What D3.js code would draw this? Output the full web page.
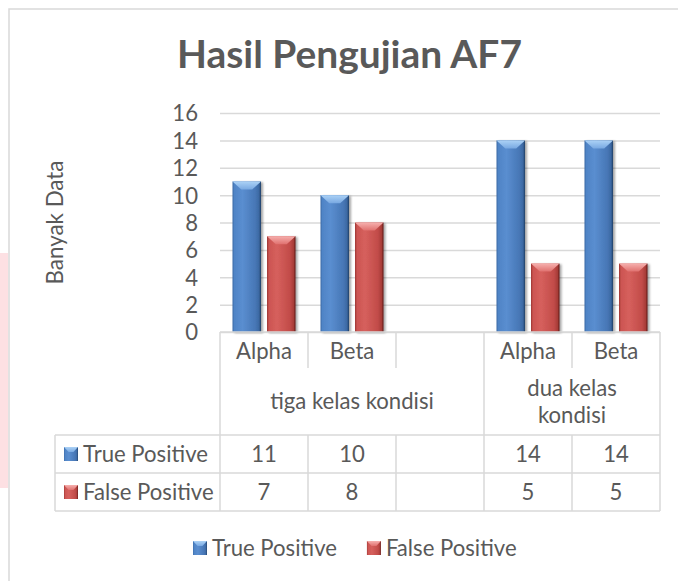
<!DOCTYPE html>
<html>
<head>
<meta charset="utf-8">
<script src="https://cdn.jsdelivr.net/npm/d3@7/dist/d3.min.js"></script>
<style>
  body { margin: 0; background: #fff; }
  svg text { font-family: Lato, 'Open Sans', sans-serif; fill: #595959; }
</style>
</head>
<body>
<svg id="chart"></svg>
<script>
// data
let categories = ['Alpha', 'Beta', '', 'Alpha', 'Beta']
let groupLabels = [['tiga kelas kondisi'], ['dua kelas', 'kondisi']]
let groupSpans = [[0, 2], [3, 4]]
let seriesNames = ['True Positive', 'False Positive']
let truePositive = [11, 10, null, 14, 14]
let falsePositive = [7, 8, null, 5, 5]
let yTicks = [0, 2, 4, 6, 8, 10, 12, 14, 16]

let width = 678
let height = 581
let plotLeft = 220
let plotRight = 660
let plotTop = 113
let plotBottom = 332
let tableLeft = 55
let catRowBottom = 368
let groupRowBottom = 435
let rowHeight = 38

let colors = {
    'True Positive': { stops: ['#3b6aa6', '#4f84c6', '#5a8ed0', '#4777b6', '#3d69a3', '#203f66'], top: ['#acd2f6', '#79a9e2'] },
    'False Positive': { stops: ['#9b3532', '#cc5552', '#d6605d', '#c24c49', '#a83c39', '#5e1716'], top: ['#f6b0ae', '#e0716f'] }
}

let svg = d3.select('#chart').attr('width', width).attr('height', height)

// measure text to pick font sizes close to the reference widths
let fitFont = (text, weight, target) => {
    let t = svg.append('text').attr('font-size', 100).attr('font-weight', weight).text(text)
    let len = t.node().getComputedTextLength()
    t.remove()
    return 100 * target / len
}
let bodySize = fitFont('True Positive', 400, 125)
let titleSize = fitFont('Hasil Pengujian AF7', 700, 345)
let labelSize = fitFont('Banyak Data', 400, 124)

let defs = svg.append('defs')
let keyOf = (name) => name.replace(' ', '')
seriesNames.forEach((name) => {
    let c = colors[name]
    let g = defs.append('linearGradient').attr('id', 'body-' + keyOf(name))
        .attr('x1', 0).attr('x2', 1).attr('y1', 0).attr('y2', 0)
    let offs = [0, 0.07, 0.35, 0.8, 0.93, 1]
    c.stops.forEach((s, i) => g.append('stop').attr('offset', offs[i]).attr('stop-color', s))
    let t = defs.append('linearGradient').attr('id', 'top-' + keyOf(name))
        .attr('x1', 0).attr('x2', 0).attr('y1', 0).attr('y2', 1)
    t.append('stop').attr('offset', 0).attr('stop-color', c.top[0])
    t.append('stop').attr('offset', 1).attr('stop-color', c.top[1])
})
let shadow = defs.append('filter').attr('id', 'shadow')
    .attr('x', '-30%').attr('y', '-10%').attr('width', '160%').attr('height', '130%')
shadow.append('feDropShadow').attr('dx', 2).attr('dy', 1).attr('stdDeviation', 1.3)
    .attr('flood-color', '#000').attr('flood-opacity', 0.35)

// chart frame and the pink strip at the left edge
svg.append('rect').attr('x', 0).attr('y', 253).attr('width', 8).attr('height', 235).attr('fill', '#fde0e3')
svg.append('rect').attr('x', 9).attr('y', 9).attr('width', 720).attr('height', 620)
    .attr('fill', 'none').attr('stroke', '#d9d9d9').attr('stroke-width', 1.5)

// scales
let x = d3.scaleBand().domain(d3.range(categories.length)).range([plotLeft, plotRight])
let xSeries = d3.scaleBand().domain(seriesNames).range([0, x.bandwidth()])
    .paddingInner(0.174).paddingOuter(0.362)
let y = d3.scaleLinear().domain([0, 16]).range([plotBottom, plotTop])

// gridlines
let grid = svg.append('g').attr('transform', 'translate(' + plotLeft + ',0)')
    .call(d3.axisLeft(y).tickValues(yTicks).tickSize(-(plotRight - plotLeft)).tickFormat(''))
grid.select('.domain').remove()
grid.selectAll('line').attr('stroke', '#d9d9d9').attr('stroke-width', 1.5)

// y axis labels
let yAxis = svg.append('g').attr('transform', 'translate(' + plotLeft + ',0)')
    .call(d3.axisLeft(y).tickValues(yTicks).tickSize(0).tickPadding(22))
yAxis.select('.domain').remove()
yAxis.selectAll('text').attr('font-size', bodySize).attr('font-family', 'Lato').attr('fill', '#595959')
    .attr('dy', '0.36em')

svg.append('text')
    .attr('transform', 'translate(63,' + ((plotTop + plotBottom) / 2) + ') rotate(-90)')
    .attr('text-anchor', 'middle')
    .attr('font-size', labelSize)
    .text('Banyak Data')

svg.append('text')
    .attr('x', 349.5).attr('y', 68)
    .attr('text-anchor', 'middle')
    .attr('font-size', titleSize).attr('font-weight', 700)
    .text('Hasil Pengujian AF7')

// bevelled bar: body gradient plus a light chevron on top
let drawBevel = (sel, w, h, depth, name) => {
    sel.append('rect').attr('width', w).attr('height', h)
        .attr('fill', 'url(#body-' + keyOf(name) + ')')
    let d = Math.min(depth, h)
    let inset = Math.min(w * 0.33, d * 1.1)
    sel.append('polygon')
        .attr('points', [[0, 0], [w, 0], [w - inset, d], [inset, d]].map((p) => p.join(',')).join(' '))
        .attr('fill', 'url(#top-' + keyOf(name) + ')')
}

let barData = []
seriesNames.forEach((name, si) => {
    let values = si === 0 ? truePositive : falsePositive
    values.forEach((v, i) => { if (v !== null) barData.push({ name: name, index: i, value: v }) })
})

svg.selectAll('g.bar')
    .data(barData)
    .enter()
    .append('g')
    .attr('class', 'bar')
    .attr('filter', 'url(#shadow)')
    .attr('transform', (d) => 'translate(' + (x(d.index) + xSeries(d.name)) + ',' + y(d.value) + ')')
    .each(function (d) {
        drawBevel(d3.select(this), xSeries.bandwidth(), y(0) - y(d.value), 8, d.name)
    })

// data table under the plot
let table = svg.append('g')
let lineColor = '#d9d9d9'
let hLine = (x1, x2, yy) => table.append('line').attr('x1', x1).attr('x2', x2).attr('y1', yy).attr('y2', yy)
    .attr('stroke', lineColor).attr('stroke-width', 1.5)
let vLine = (xx, y1, y2) => table.append('line').attr('x1', xx).attr('x2', xx).attr('y1', y1).attr('y2', y2)
    .attr('stroke', lineColor).attr('stroke-width', 1.5)

let tableBottom = groupRowBottom + 2 * rowHeight
hLine(plotLeft, plotRight, plotBottom)
hLine(tableLeft, plotRight, groupRowBottom)
hLine(tableLeft, plotRight, groupRowBottom + rowHeight)
hLine(tableLeft, plotRight, tableBottom)
vLine(tableLeft, groupRowBottom, tableBottom)
vLine(plotLeft, plotBottom, tableBottom)
vLine(plotRight, plotBottom, tableBottom)
d3.range(1, categories.length).forEach((i) => {
    let xx = x(i)
    let isGroupEdge = groupSpans.some((s) => s[0] === i)
    if (isGroupEdge) {
        vLine(xx, plotBottom, tableBottom)
    } else {
        vLine(xx, plotBottom, catRowBottom)
        vLine(xx, groupRowBottom, tableBottom)
    }
})

table.selectAll('text.cat')
    .data(categories)
    .enter()
    .append('text')
    .attr('class', 'cat')
    .attr('x', (d, i) => x(i) + x.bandwidth() / 2)
    .attr('y', (plotBottom + catRowBottom) / 2 + 1)
    .attr('dy', '0.36em')
    .attr('text-anchor', 'middle')
    .attr('font-size', bodySize)
    .text((d) => d)

groupLabels.forEach((lines, gi) => {
    let span = groupSpans[gi]
    let cx = (x(span[0]) + x(span[1]) + x.bandwidth()) / 2
    let cy = (catRowBottom + groupRowBottom) / 2
    let lh = 27
    lines.forEach((line, li) => {
        table.append('text')
            .attr('x', cx)
            .attr('y', cy + (li - (lines.length - 1) / 2) * lh)
            .attr('dy', '0.36em')
            .attr('text-anchor', 'middle')
            .attr('font-size', bodySize)
            .text(line)
    })
})

seriesNames.forEach((name, si) => {
    let values = si === 0 ? truePositive : falsePositive
    let cy = groupRowBottom + rowHeight * si + rowHeight / 2
    let icon = table.append('g').attr('transform', 'translate(64,' + (cy - 7) + ')')
    drawBevel(icon, 14, 14, 5, name)
    table.append('text').attr('x', 83).attr('y', cy).attr('dy', '0.36em')
        .attr('font-size', bodySize).text(name)
    table.selectAll('text.val' + si)
        .data(values)
        .enter()
        .append('text')
        .attr('class', 'val' + si)
        .attr('x', (d, i) => x(i) + x.bandwidth() / 2)
        .attr('y', cy)
        .attr('dy', '0.36em')
        .attr('text-anchor', 'middle')
        .attr('font-size', bodySize)
        .text((d) => d === null ? '' : d)
})

// legend at the bottom
let legend = svg.append('g')
let legendY = 548
let lx = 193
seriesNames.forEach((name) => {
    let icon = legend.append('g').attr('transform', 'translate(' + lx + ',' + (legendY - 7) + ')')
    drawBevel(icon, 14, 14, 5, name)
    let t = legend.append('text').attr('x', lx + 19).attr('y', legendY).attr('dy', '0.36em')
        .attr('font-size', bodySize).text(name)
    lx += 19 + t.node().getComputedTextLength() + 30
})
</script>
</body>
</html>
